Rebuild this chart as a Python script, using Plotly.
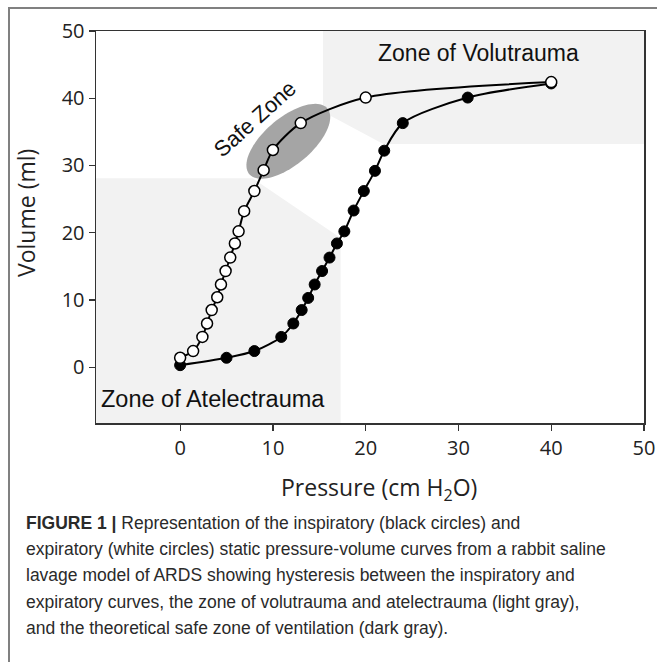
import numpy as np
import plotly.graph_objects as go

# ---------------- data ----------------
insp_pressure = [0, 5.0, 8.0, 10.9, 12.2, 13.1, 13.8, 14.5, 15.3, 16.1, 16.9, 17.7, 18.7, 19.8, 21.0, 22.0, 24.0, 31.0, 40.0]
insp_volume   = [0.3, 1.4, 2.4, 4.5, 6.5, 8.5, 10.3, 12.3, 14.3, 16.3, 18.4, 20.2, 23.3, 26.2, 29.2, 32.2, 36.3, 40.1, 42.2]

exp_pressure = [0, 1.4, 2.4, 2.9, 3.4, 4.0, 4.4, 4.9, 5.4, 5.9, 6.3, 6.9, 8.0, 9.0, 10.0, 13.0, 20.0, 40.0]
exp_volume   = [1.4, 2.4, 4.5, 6.5, 8.5, 10.4, 12.3, 14.3, 16.3, 18.4, 20.2, 23.2, 26.2, 29.3, 32.3, 36.3, 40.1, 42.4]

x_ticks = [0, 10, 20, 30, 40, 50]
y_ticks = [0, 10, 20, 30, 40, 50]

caption_lines = [
    "<b>FIGURE 1 |</b> Representation of the inspiratory (black circles) and",
    "expiratory (white circles) static pressure-volume curves from a rabbit saline",
    "lavage model of ARDS showing hysteresis between the inspiratory and",
    "expiratory curves, the zone of volutrauma and atelectrauma (light gray),",
    "and the theoretical safe zone of ventilation (dark gray).",
]

# ---------------- layout geometry ----------------
W, H = 657, 662
PL, PR, PT, PB = 96, 644, 31, 423          # plot area in pixels
XR = [-9.07, 50]
YR = [-8.3, 50]

def px_x(px):
    return (px - PL) / (PR - PL)

def px_y(py):
    return (PB - py) / (PB - PT)

fig = go.Figure()

# zones (light gray)
zone_fill = "#f2f2f2"
atel = [(XR[0], YR[0]), (17.3, YR[0]), (17.3, 19.2), (7.8, 28.1), (XR[0], 28.1)]
volu = [(15.4, YR[1]), (XR[1], YR[1]), (XR[1], 33.2), (21.9, 33.2), (15.4, 38.0)]

def poly_path(pts):
    return "M " + " L ".join(f"{x},{y}" for x, y in pts) + " Z"

shapes = [
    dict(type="path", path=poly_path(atel), xref="x", yref="y",
         fillcolor=zone_fill, line=dict(width=0), layer="below"),
    dict(type="path", path=poly_path(volu), xref="x", yref="y",
         fillcolor=zone_fill, line=dict(width=0), layer="below"),
]

# safe zone ellipse (rotated), built in pixel space then mapped to data
sx = (PR - PL) / (XR[1] - XR[0])
sy = (PB - PT) / (YR[1] - YR[0])
cx, cy = 11.66, 33.6
a_px, b_px, theta = 51.0, 23.6, np.deg2rad(40)
t = np.linspace(0, 2 * np.pi, 90)
ex = cx + (a_px * np.cos(theta) * np.cos(t) - b_px * np.sin(theta) * np.sin(t)) / sx
ey = cy + (a_px * np.sin(theta) * np.cos(t) + b_px * np.cos(theta) * np.sin(t)) / sy
shapes.append(dict(type="path", path=poly_path(list(zip(ex.round(3), ey.round(3)))),
                   xref="x", yref="y", fillcolor="#a5a5a5", line=dict(width=0), layer="below"))

# outer figure frame (top and left edges of the figure panel)
shapes.append(dict(type="line", xref="paper", yref="paper",
                   x0=px_x(8), y0=px_y(8), x1=px_x(657), y1=px_y(8),
                   line=dict(color="#808080", width=2)))
shapes.append(dict(type="line", xref="paper", yref="paper",
                   x0=px_x(9), y0=px_y(8), x1=px_x(9), y1=px_y(662),
                   line=dict(color="#808080", width=2)))

# curves
fig.add_trace(go.Scatter(
    x=insp_pressure, y=insp_volume, mode="lines+markers",
    line=dict(color="black", width=2, shape="spline", smoothing=0.8),
    marker=dict(size=11, color="black", line=dict(color="black", width=1)),
    showlegend=False, name="Inspiratory", hoverinfo="skip"))
fig.add_trace(go.Scatter(
    x=exp_pressure, y=exp_volume, mode="lines+markers",
    line=dict(color="black", width=2, shape="spline", smoothing=0.8),
    marker=dict(size=11, color="white", line=dict(color="black", width=1.5)),
    showlegend=False, name="Expiratory", hoverinfo="skip"))

ann = []
zone_font = dict(family="Liberation Sans, Arial, sans-serif", size=23, color="#111111")
ann.append(dict(x=32.2, y=46.7, xref="x", yref="y", text="Zone of Volutrauma",
                showarrow=False, font=zone_font, xanchor="center", yanchor="middle"))
ann.append(dict(x=3.5, y=-4.8, xref="x", yref="y", text="Zone of Atelectrauma",
                showarrow=False, font=dict(zone_font, size=23.5), xanchor="center", yanchor="middle"))
ann.append(dict(x=8.1, y=37.0, xref="x", yref="y", text="Safe Zone",
                showarrow=False, font=dict(zone_font, size=22), textangle=-42,
                xanchor="center", yanchor="middle"))

# axis titles
title_font = dict(family="Open Sans, sans-serif", size=23, color="#222222")
ann.append(dict(x=px_x(379), y=px_y(489), xref="paper", yref="paper",
                text="Pressure (cm H<sub>2</sub>O)", showarrow=False, font=title_font,
                xanchor="center", yanchor="middle"))
ann.append(dict(x=px_x(26), y=px_y(213), xref="paper", yref="paper",
                text="Volume (ml)", showarrow=False, font=title_font, textangle=-90,
                xanchor="center", yanchor="middle"))

# caption
cap_font = dict(family="Liberation Sans, Arial, sans-serif", size=17.5, color="#2a2a2a")
for i, line in enumerate(caption_lines):
    ann.append(dict(x=px_x(24), y=px_y(523 + 26.2 * i), xref="paper", yref="paper",
                    text=line, showarrow=False, xanchor="left", yanchor="middle",
                    align="left", font=cap_font))

axis_common = dict(showgrid=False, zeroline=False, showline=True, mirror=True,
                   automargin=False,
                   linecolor="#333333", linewidth=1.5, ticks="outside", ticklen=6,
                   tickwidth=1.2, tickcolor="#333333",
                   tickfont=dict(family="Open Sans, sans-serif", size=20, color="#222222"))

fig.update_layout(
    width=W, height=H,
    margin=dict(l=PL, r=W - PR, t=PT, b=H - PB, pad=0, autoexpand=False),
    paper_bgcolor="white", plot_bgcolor="white",
    xaxis=dict(range=XR, tickvals=x_ticks, fixedrange=True, **axis_common),
    yaxis=dict(range=YR, tickvals=y_ticks, fixedrange=True, **axis_common),
    shapes=shapes, annotations=ann, hovermode=False,
)

page_js = (
    "document.documentElement.style.overflow='hidden';"
    "document.body.style.overflow='hidden';"
    "document.body.style.margin='0px';"
)

fig.write_html(
    "out.html",
    config={"displayModeBar": False, "responsive": False, "staticPlot": True},
    post_script=page_js,
)
